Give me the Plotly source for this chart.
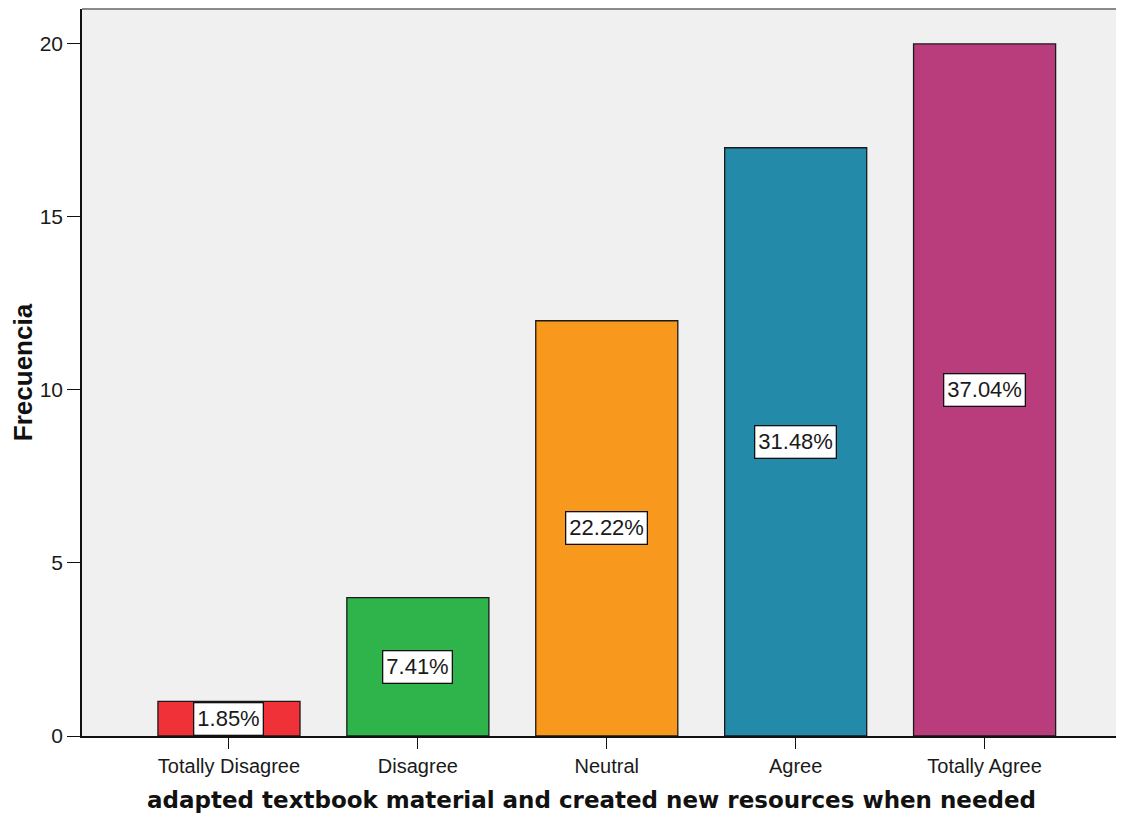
import plotly.graph_objects as go

categories = ["Totally Disagree", "Disagree", "Neutral", "Agree", "Totally Agree"]
counts = [1, 4, 12, 17, 20]
percent_labels = ["1.85%", "7.41%", "22.22%", "31.48%", "37.04%"]
colors = ["#F03238", "#2EB44A", "#F8981D", "#248AAA", "#B93D7C"]
y_ticks = [0, 5, 10, 15, 20]
x_title = "adapted textbook material and created new resources when needed"
y_title = "Frecuencia"

SANS = "Liberation Sans, Arial, sans-serif"

fig = go.Figure()
fig.add_trace(go.Bar(
    x=list(range(len(categories))),
    y=counts,
    marker=dict(color=colors, line=dict(color="#1a1a1a", width=1.3)),
    width=0.752,
    hoverinfo="skip",
))

for i, (c, lab) in enumerate(zip(counts, percent_labels)):
    fig.add_annotation(
        x=i, y=c / 2, text=lab, showarrow=False,
        font=dict(family=SANS, size=22, color="#1a1a1a"),
        bgcolor="white", bordercolor="#111111", borderwidth=1.3, borderpad=3,
    )

# x-axis title as a paper-anchored annotation (slightly left of plot centre, as in the reference)
fig.add_annotation(
    xref="paper", yref="paper", x=0.4894, y=0, yanchor="middle", yshift=-64,
    text="<b>" + x_title + "</b>", showarrow=False,
    font=dict(size=23, family="DejaVu Sans, Verdana, sans-serif", color="#111111"),
)

# page body has an 8px margin in the browser
fig.update_layout(
    width=1116, height=814,
    margin=dict(l=74, r=0, t=1, b=86, autoexpand=False),
    paper_bgcolor="white",
    plot_bgcolor="#F0F0F0",
    showlegend=False,
    font=dict(family=SANS, color="#222222"),
    shapes=[dict(type="line", xref="paper", yref="paper", x0=0, x1=1, y0=1, y1=1,
                 line=dict(color="#8a8a8a", width=2))],
)

fig.update_xaxes(
    range=[-0.778, 4.738],
    tickmode="array", tickvals=list(range(len(categories))), ticktext=categories,
    ticks="outside", ticklen=11, tickwidth=1.3, tickcolor="#111111",
    showline=True, linecolor="#111111", linewidth=1.5,
    showgrid=False, zeroline=False,
    tickfont=dict(size=20, family=SANS, color="#1a1a1a"),
)

fig.update_yaxes(
    range=[0, 21.01],
    tickmode="array", tickvals=y_ticks,
    ticks="outside", ticklen=13, tickwidth=1.3, tickcolor="#111111",
    showline=True, linecolor="#111111", linewidth=1.5,
    showgrid=False, zeroline=False,
    tickfont=dict(size=21, family=SANS, color="#1a1a1a"),
    title=dict(text="<b>" + y_title + "</b>",
               font=dict(size=26, family=SANS, color="#111111"),
               standoff=12),
)

fig.write_html("out.html")
